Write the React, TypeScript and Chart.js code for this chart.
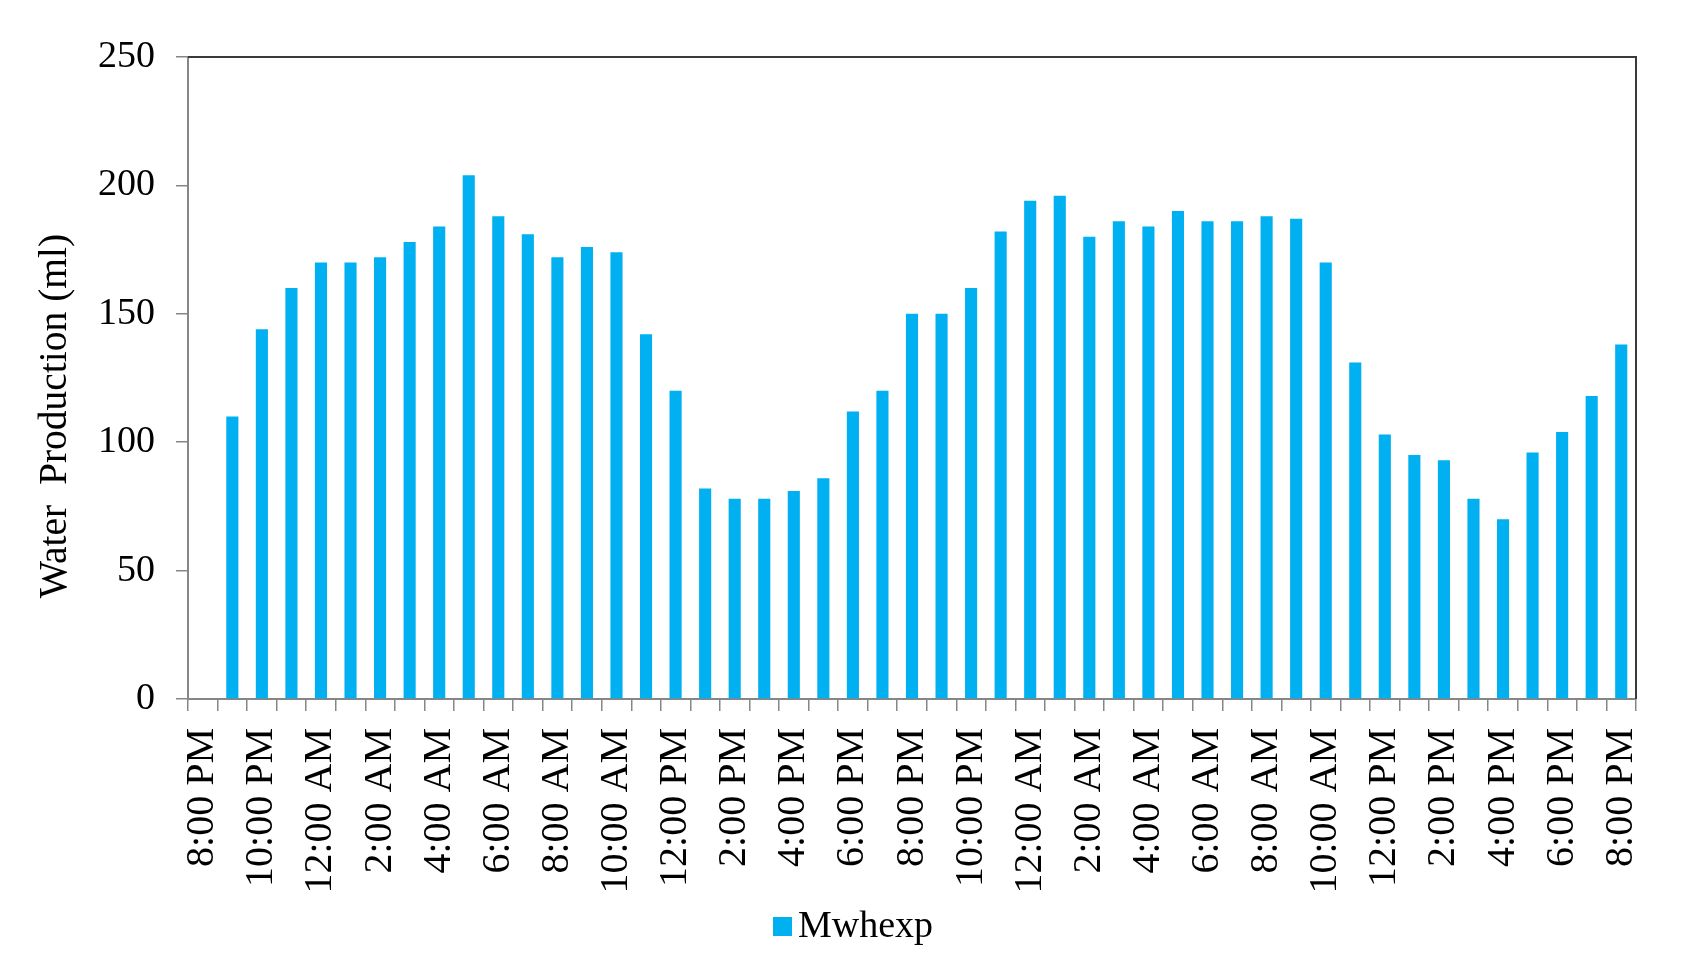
import React, { useEffect, useRef } from 'react';
import { Chart, registerables } from 'chart.js';

Chart.register(...registerables);

const timeLabels: string[] = [
  '8:00 PM', '9:00 PM', '10:00 PM', '11:00 PM',
  '12:00 AM', '1:00 AM', '2:00 AM', '3:00 AM', '4:00 AM', '5:00 AM',
  '6:00 AM', '7:00 AM', '8:00 AM', '9:00 AM', '10:00 AM', '11:00 AM',
  '12:00 PM', '1:00 PM', '2:00 PM', '3:00 PM', '4:00 PM', '5:00 PM',
  '6:00 PM', '7:00 PM', '8:00 PM', '9:00 PM', '10:00 PM', '11:00 PM',
  '12:00 AM', '1:00 AM', '2:00 AM', '3:00 AM', '4:00 AM', '5:00 AM',
  '6:00 AM', '7:00 AM', '8:00 AM', '9:00 AM', '10:00 AM', '11:00 AM',
  '12:00 PM', '1:00 PM', '2:00 PM', '3:00 PM', '4:00 PM', '5:00 PM',
  '6:00 PM', '7:00 PM', '8:00 PM',
];

const mwhexp: (number | null)[] = [
  null,
  110, 144, 160, 170, 170, 172, 178, 184, 204, 188,
  181, 172, 176, 174, 142, 120, 82, 78, 78, 81,
  86, 112, 120, 150, 150, 160, 182, 194, 196, 180,
  186, 184, 190, 186, 186, 188, 187, 170, 131, 103,
  95, 93, 78, 70, 96, 104, 118, 138,
];

const seriesName = 'Mwhexp';
const yTitle = 'Water  Production (ml)';
const yTicks = { min: 0, max: 250, step: 50 };

const FONT = 'Liberation Serif';
const BAR_COLOR = '#00B0F0';
const AXIS_COLOR = '#868686';

const framePlugin = {
  id: 'frame',
  afterDatasetsDraw(chart: any) {
    const { ctx, chartArea: a } = chart;
    ctx.save();
    ctx.strokeStyle = '#3a3a3a';
    ctx.lineWidth = 2;
    ctx.beginPath();
    ctx.moveTo(a.left, a.top);
    ctx.lineTo(a.right, a.top);
    ctx.lineTo(a.right, a.bottom);
    ctx.stroke();
    ctx.restore();
  },
};

const yTitlePlugin = {
  id: 'yTitle',
  afterDraw(chart: any) {
    const { ctx } = chart;
    ctx.save();
    ctx.translate(56, 416);
    ctx.rotate(-Math.PI / 2);
    ctx.font = `39.5px "${FONT}"`;
    ctx.fillStyle = '#000';
    ctx.textAlign = 'center';
    ctx.textBaseline = 'middle';
    ctx.fillText(yTitle, 0, 0);
    ctx.restore();
  },
};

const legendPlugin = {
  id: 'customLegend',
  afterDraw(chart: any) {
    const { ctx } = chart;
    const ds = chart.data.datasets[0];
    ctx.save();
    ctx.fillStyle = ds.backgroundColor;
    ctx.fillRect(773, 917, 19, 19);
    ctx.font = `38px "${FONT}"`;
    ctx.fillStyle = '#000';
    ctx.textAlign = 'left';
    ctx.textBaseline = 'middle';
    ctx.fillText(ds.label, 798, 927);
    ctx.restore();
  },
};

export default function App() {
  const canvasRef = useRef<HTMLCanvasElement | null>(null);

  useEffect(() => {
    if (!canvasRef.current) return;
    const chart = new Chart(canvasRef.current, {
      type: 'bar',
      data: {
        labels: timeLabels,
        datasets: [
          {
            label: seriesName,
            data: mwhexp,
            backgroundColor: BAR_COLOR,
            borderWidth: 0,
            categoryPercentage: 1,
            barPercentage: 0.41,
          },
        ],
      },
      options: {
        animation: false,
        responsive: false,
        devicePixelRatio: 1,
        layout: { padding: { top: 57, right: 64, bottom: 76, left: 0 } },
        plugins: {
          legend: { display: false },
          tooltip: { enabled: false },
        },
        scales: {
          x: {
            offset: true,
            grid: {
              display: true,
              offset: true,
              drawOnChartArea: false,
              drawTicks: true,
              tickLength: 12,
              color: AXIS_COLOR,
              lineWidth: 1.5,
            },
            border: { display: true, color: AXIS_COLOR, width: 2 },
            ticks: {
              autoSkip: false,
              maxRotation: 90,
              minRotation: 90,
              padding: 17,
              color: '#000',
              font: { family: FONT, size: 40 },
              callback: (_v: any, i: number) => (i % 2 === 0 ? timeLabels[i] : ''),
            },
            afterFit: (scale: any) => {
              scale.height = 198;
            },
          },
          y: {
            min: yTicks.min,
            max: yTicks.max,
            grid: {
              display: true,
              drawOnChartArea: false,
              drawTicks: true,
              tickLength: 12,
              color: AXIS_COLOR,
              lineWidth: 1.5,
            },
            border: { display: true, color: AXIS_COLOR, width: 2 },
            ticks: {
              stepSize: yTicks.step,
              padding: 21,
              color: '#000',
              font: { family: FONT, size: 38 },
            },
            afterFit: (scale: any) => {
              scale.width = 188;
            },
          },
        },
      },
      plugins: [framePlugin, yTitlePlugin, legendPlugin],
    });
    return () => chart.destroy();
  }, []);

  return (
    <div style={{ position: 'absolute', left: 0, top: 0, width: 1700, height: 973, background: '#fff' }}>
      <canvas ref={canvasRef} width={1700} height={973} style={{ display: 'block' }} />
    </div>
  );
}
